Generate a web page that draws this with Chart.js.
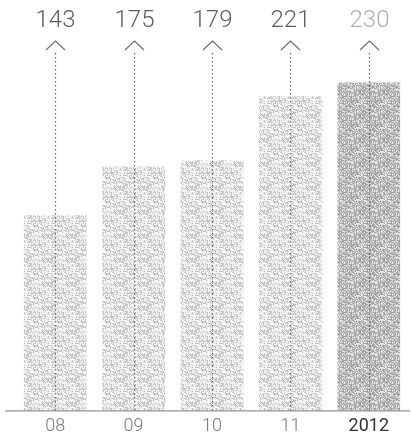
<!DOCTYPE html>
<html>
<head>
<meta charset="utf-8">
<script src="https://cdn.jsdelivr.net/npm/chart.js@4/dist/chart.umd.min.js"></script>
<style>
  html, body { margin: 0; padding: 0; background: #fff; }
  #wrap { width: 412px; height: 445px; }
</style>
</head>
<body>
<div id="wrap"><canvas id="c" width="412" height="445"></canvas></div>
<script>
// Yearly totals
const categories = ['08', '09', '10', '11', '2012'];
const values = [143, 175, 179, 221, 230];
const valueLabels = ['143', '175', '179', '221', '230'];

// Grainy stipple fill for the bars, built from a fixed hash so it is repeatable
function stipple(density, tones) {
  const size = 24;
  const cv = document.createElement('canvas');
  cv.width = size; cv.height = size;
  const g = cv.getContext('2d');
  const img = g.createImageData(size, size);
  for (let y = 0; y < size; y++) {
    for (let x = 0; x < size; x++) {
      let h = (x * 374761393 + y * 668265263) >>> 0;
      h = ((h ^ (h >>> 13)) * 1274126177) >>> 0;
      const r = (h & 1023) / 1023;
      let v;
      if (r < density * 0.5) v = tones[0];
      else if (r < density) v = tones[1];
      else v = tones[2];
      const i = (y * size + x) * 4;
      img.data[i] = img.data[i + 1] = img.data[i + 2] = v;
      img.data[i + 3] = 255;
    }
  }
  g.putImageData(img, 0, 0);
  return g.createPattern(cv, 'repeat');
}

const ctxMain = document.getElementById('c').getContext('2d');
const lightFill = stipple(0.42, [188, 218, 247]);
const darkFill = stipple(0.75, [162, 200, 240]);
const barFills = categories.map((c, i) => i === categories.length - 1 ? darkFill : lightFill);

const arrowsPlugin = {
  id: 'arrows',
  afterDatasetsDraw(chart) {
    const ctx = chart.ctx;
    const meta = chart.getDatasetMeta(0);
    const base = chart.chartArea.bottom;
    ctx.save();
    // baseline
    ctx.strokeStyle = '#7a7a7a';
    ctx.lineWidth = 1;
    ctx.beginPath();
    ctx.moveTo(5, base + 0.5);
    ctx.lineTo(410, base + 0.5);
    ctx.stroke();

    meta.data.forEach((el, i) => {
      const x = Math.round(el.x) + 0.5;
      // dotted leader line
      ctx.fillStyle = '#606060';
      for (let y = 53; y < base - 1; y += 4) {
        ctx.fillRect(x - 0.6, y, 1.2, 1.4);
      }
      // chevron
      ctx.strokeStyle = '#6a6a6a';
      ctx.lineWidth = 1.1;
      ctx.beginPath();
      ctx.moveTo(x - 9.5, 50);
      ctx.lineTo(x, 41);
      ctx.lineTo(x + 9.5, 50);
      ctx.stroke();
      // value label
      ctx.fillStyle = i === meta.data.length - 1 ? '#b0b0b0' : '#5c5c5c';
      ctx.font = '300 24px Roboto, "Liberation Sans", sans-serif';
      ctx.textAlign = 'center';
      ctx.textBaseline = 'middle';
      ctx.fillText(valueLabels[i], x, 21);
    });
    ctx.restore();
  }
};

new Chart(ctxMain, {
  type: 'bar',
  data: {
    labels: categories,
    datasets: [{
      data: values,
      backgroundColor: barFills,
      borderWidth: 0,
      barPercentage: 0.8,
      categoryPercentage: 1.0
    }]
  },
  options: {
    responsive: false,
    animation: false,
    devicePixelRatio: 1,
    layout: { padding: { left: 16, right: 4, top: 52, bottom: 3 } },
    plugins: { legend: { display: false }, tooltip: { enabled: false } },
    scales: {
      x: {
        grid: { display: false, drawTicks: false },
        border: { display: false },
        ticks: {
          padding: 5,
          color: (c) => c.index === categories.length - 1 ? '#333' : '#7a7a7a',
          font: (c) => ({
            family: 'Roboto, "Liberation Sans", sans-serif',
            size: 18,
            weight: c.index === categories.length - 1 ? '400' : '300'
          })
        }
      },
      y: {
        display: false,
        min: 15,
        max: 250
      }
    }
  },
  plugins: [arrowsPlugin]
});
</script>
</body>
</html>
